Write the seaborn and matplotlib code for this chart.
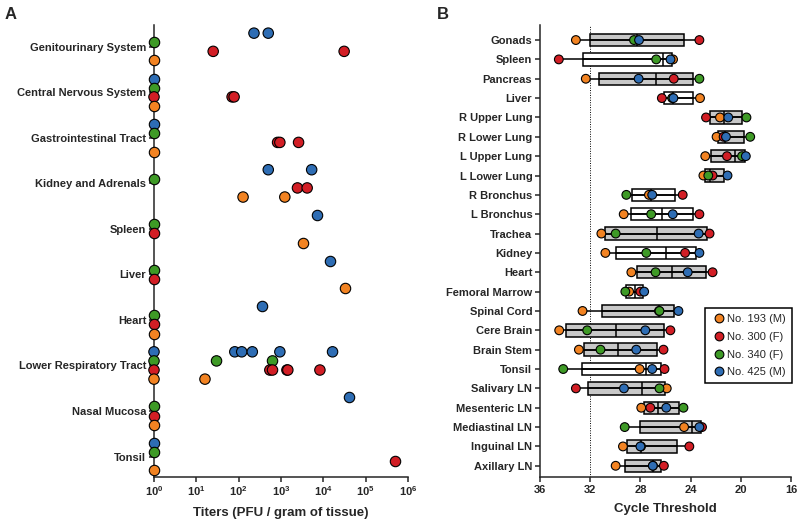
import numpy as np
import pandas as pd
import matplotlib
matplotlib.use("Agg")
import matplotlib.pyplot as plt
import seaborn as sns
from matplotlib.lines import Line2D

# animals and their colours
animals = ["No. 193 (M)", "No. 300 (F)", "No. 340 (F)", "No. 425 (M)"]
colors = ["#F28322", "#D21E25", "#3E9A26", "#2E6DB4"]

# Panel A: titers (PFU / gram of tissue), 1 = below detection
tissues_a = ["Genitourinary System", "Central Nervous System", "Gastrointestinal Tract",
             "Kidney and Adrenals", "Spleen", "Liver", "Heart",
             "Lower Respiratory Tract", "Nasal Mucosa", "Tonsil"]
titer_193 = [[1], [1], [1], [127, 1230], [3300], [32000], [1], [1, 16], [1], [1]]
titer_300 = [[25, 31000], [1, 70, 78], [830, 940, 2600], [2450, 4150], [1], [1], [1],
             [1, 545, 630, 1380, 1450, 8300], [1], [490000]]
titer_340 = [[1], [1], [1], [1], [1], [1], [1], [1, 30, 630], [1], [1]]
titer_425 = [[230, 500], [1], [1], [500, 5300], [7100], [14000], [365],
             [1, 81, 118, 210, 940, 16500], [41000], [1]]

# Panel B: cycle threshold per tissue
tissues_b = ["Gonads", "Spleen", "Pancreas", "Liver", "R Upper Lung", "R Lower Lung",
             "L Upper Lung", "L Lower Lung", "R Bronchus", "L Bronchus", "Trachea",
             "Kidney", "Heart", "Femoral Marrow", "Spinal Cord", "Cere Brain",
             "Brain Stem", "Tonsil", "Salivary LN", "Mesenteric LN", "Mediastinal LN",
             "Inguinal LN", "Axillary LN"]
ct_193 = [33.14, 25.4, 32.35, 23.25, 21.66, 21.93, 22.83, 22.98, 27.32, 29.33, 31.11,
          30.79, 28.72, 28.9, 32.61, 34.47, 32.90, 28.06, 25.90, 27.93, 24.52, 29.39, 29.97]
ct_300 = [23.30, 34.5, 25.34, 26.29, 22.77, 21.37, 21.10, 22.25, 24.63, 23.30, 22.49,
          24.44, 22.25, 28.0, 26.52, 25.61, 26.16, 26.08, 33.14, 27.21, 23.09, 24.10, 26.13]
ct_340 = [28.51, 26.74, 23.30, 25.47, 19.55, 19.25, 19.9, 22.59, 29.12, 27.14, 29.97,
          27.53, 26.79, 29.2, 26.48, 32.24, 31.18, 34.15, 26.48, 24.57, 29.25, 27.95, 27.0]
ct_425 = [28.11, 25.6, 28.14, 25.37, 21.0, 21.18, 19.6, 21.06, 27.06, 25.42, 23.36,
          23.30, 24.23, 27.7, 24.97, 27.61, 28.33, 27.06, 29.31, 25.94, 23.30, 28.0, 27.01]
white_boxes = ["Spleen", "Liver", "R Bronchus", "L Bronchus", "Kidney",
               "Femoral Marrow", "Tonsil"]

sns.set_style("ticks")
plt.rcParams["font.family"] = ["Liberation Sans", "DejaVu Sans"]
plt.rcParams["mathtext.fontset"] = "custom"
plt.rcParams["mathtext.rm"] = "Liberation Sans"
plt.rcParams["mathtext.bf"] = "Liberation Sans:bold"

palette = dict(zip(animals, colors))

rows = []
for animal, vals in zip(animals, [titer_193, titer_300, titer_340, titer_425]):
    for tissue, v in zip(tissues_a, vals):
        for x in v:
            rows.append((tissue, animal, x))
df_a = pd.DataFrame(rows, columns=["tissue", "animal", "titer"])

rows = []
for animal, vals in zip(animals, [ct_193, ct_300, ct_340, ct_425]):
    for tissue, v in zip(tissues_b, vals):
        rows.append((tissue, animal, v))
df_b = pd.DataFrame(rows, columns=["tissue", "animal", "ct"])

fig = plt.figure(figsize=(8, 5.22), dpi=100)
ax_a = fig.add_axes([0.1925, 0.0862, 0.3175, 0.866])
ax_b = fig.add_axes([0.675, 0.0862, 0.31375, 0.866])

# ---- Panel A
sns.stripplot(data=df_a, x="titer", y="tissue", hue="animal", order=tissues_a,
              hue_order=animals[::-1], palette=palette, dodge=True, jitter=False,
              size=7.5, linewidth=0.8, edgecolor="black", legend=False, ax=ax_a)
for coll in ax_a.collections:
    coll.set_clip_on(False)
    coll.set_zorder(3)
ax_a.set_xscale("log")
ax_a.set_xlim(1, 1e6)
ax_a.set_ylim(9.45, -0.48)
ax_a.set_xticks([10 ** k for k in range(7)])
ax_a.set_xticklabels([r"$\mathbf{10^{%d}}$" % k for k in range(7)])
ax_a.xaxis.set_minor_locator(plt.NullLocator())
ax_a.set_xlabel("Titers (PFU / gram of tissue)", fontsize=9.5, fontweight="bold")
ax_a.set_ylabel("")

# ---- Panel B
sns.stripplot(data=df_b, x="ct", y="tissue", hue="animal", order=tissues_b,
              hue_order=animals, palette=palette, jitter=False, size=6.3,
              linewidth=0.8, edgecolor="black", legend=False, ax=ax_b, zorder=3)
for coll in ax_b.collections:
    coll.set_clip_on(False)

stats = []
for i, t in enumerate(tissues_b):
    vals = np.array([ct_193[i], ct_300[i], ct_340[i], ct_425[i]])
    q1, med, q3 = np.percentile(vals, [25, 50, 75], method="weibull")
    stats.append(dict(med=med, q1=q1, q3=q3, whislo=vals.max(), whishi=vals.min(), fliers=[]))
bp = ax_b.bxp(stats, positions=range(len(tissues_b)), widths=0.64, orientation="horizontal",
              patch_artist=True, showcaps=False, showfliers=False, manage_ticks=False,
              boxprops=dict(edgecolor="black", linewidth=1.1),
              whiskerprops=dict(color="black", linewidth=1.1),
              medianprops=dict(color="black", linewidth=1.1), zorder=2)
for t, box in zip(tissues_b, bp["boxes"]):
    box.set_facecolor("white" if t in white_boxes else "#C8C8C8")

ax_b.axvline(32, color="black", lw=0.7, ls=(0, (1, 1.5)), zorder=1)
ax_b.set_xlim(36, 16)
ax_b.set_ylim(22.58, -0.78)
ax_b.set_xticks([36, 32, 28, 24, 20, 16])
ax_b.set_xlabel("Cycle Threshold", fontsize=9.5, fontweight="bold")
ax_b.set_ylabel("")

handles = [Line2D([], [], marker="o", ls="", markersize=6.3, markerfacecolor=c,
                  markeredgecolor="black", markeredgewidth=0.8) for c in colors]
leg = ax_b.legend(handles, animals, loc="upper right", bbox_to_anchor=(1.005, 0.374),
                  frameon=True, fancybox=False, framealpha=1, edgecolor="black",
                  fontsize=8, handletextpad=0.1, handlelength=1.4, borderpad=0.55,
                  labelspacing=0.7, borderaxespad=0)
leg.get_frame().set_linewidth(1.1)

for ax in (ax_a, ax_b):
    sns.despine(ax=ax)
    for s in ("left", "bottom"):
        ax.spines[s].set_linewidth(1.1)
    ax.tick_params(axis="both", width=1.1, length=3.5, labelsize=8, pad=2)
    for lab in ax.get_xticklabels() + ax.get_yticklabels():
        lab.set_fontweight("bold")
    ax.xaxis.labelpad = 6

fig.text(0.006, 0.972, "A", fontsize=12, fontweight="bold", va="center")
fig.text(0.546, 0.972, "B", fontsize=12, fontweight="bold", va="center")

fig.savefig("out.png", dpi=100)
